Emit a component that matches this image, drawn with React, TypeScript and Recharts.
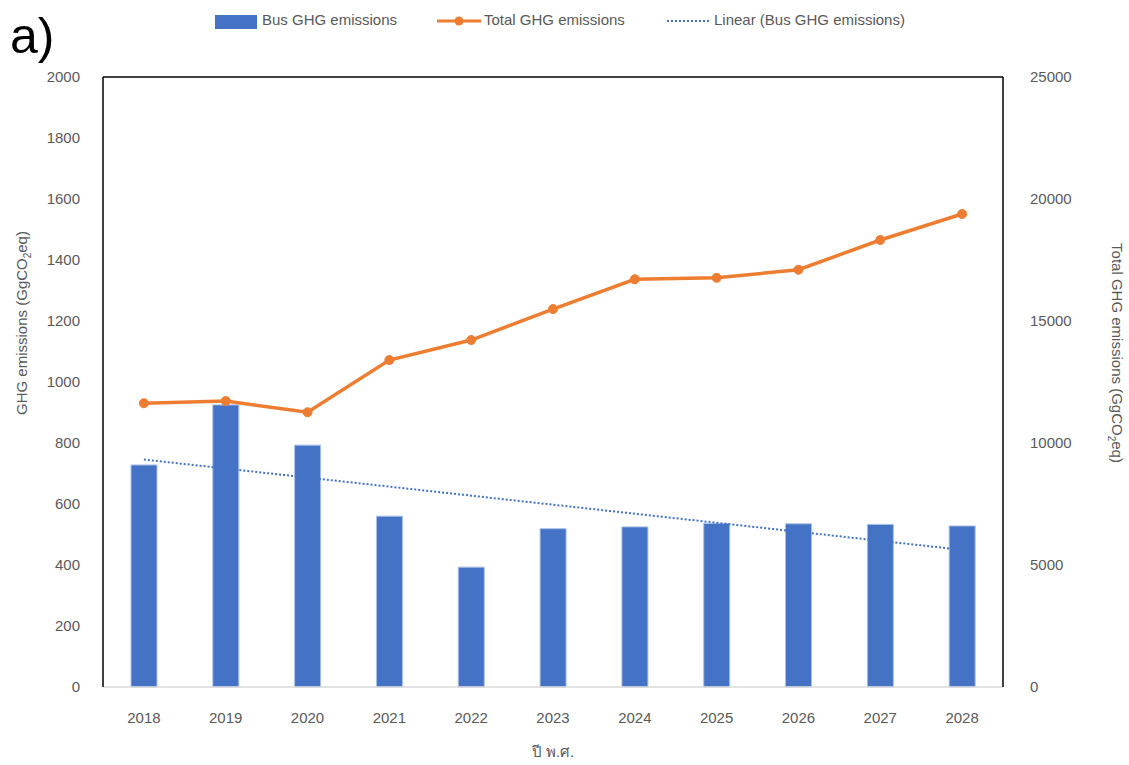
import React from 'react';
import { ComposedChart, Bar, Line, XAxis, YAxis, ReferenceLine } from 'recharts';

const years = ['2018', '2019', '2020', '2021', '2022', '2023', '2024', '2025', '2026', '2027', '2028'];
const busGHG = [728, 925, 793, 560, 393, 519, 525, 536, 535, 533, 528];
const totalGHG = [11630, 11720, 11260, 13400, 14220, 15490, 16710, 16770, 17100, 18320, 19385];
const leftTicks = [0, 200, 400, 600, 800, 1000, 1200, 1400, 1600, 1800, 2000];
const rightTicks = [0, 5000, 10000, 15000, 20000, 25000];

// Excel-style linear trendline (least squares) of the bus series
const n = busGHG.length;
const meanX = (n - 1) / 2;
const meanY = busGHG.reduce((a, b) => a + b, 0) / n;
let sxy = 0;
let sxx = 0;
busGHG.forEach((v, i) => {
  sxy += (i - meanX) * (v - meanY);
  sxx += (i - meanX) * (i - meanX);
});
const slope = sxy / sxx;
const intercept = meanY - slope * meanX;

const data = years.map((y, i) => ({
  year: y,
  bus: busGHG[i],
  total: totalGHG[i],
  trend: intercept + slope * i,
}));

const FONT = '"Liberation Sans", Arial, "DejaVu Sans", sans-serif';
const TXT = '#595959';

const LeftLabel = () => (
  <text
    x={27}
    y={323}
    transform="rotate(-90 27 323)"
    textAnchor="middle"
    fontSize={15}
    fill={TXT}
    fontFamily={FONT}
  >
    GHG emissions (GgCO
    <tspan fontSize={10} dy={4}>2</tspan>
    <tspan dy={-4}>eq)</tspan>
  </text>
);

const RightLabel = () => (
  <text
    x={1112}
    y={353}
    transform="rotate(90 1112 353)"
    textAnchor="middle"
    fontSize={15}
    fill={TXT}
    fontFamily={FONT}
  >
    Total GHG emissions  (GgCO
    <tspan fontSize={10} dy={4}>2</tspan>
    <tspan dy={-4}>eq)</tspan>
  </text>
);

const legendText: React.CSSProperties = {
  position: 'absolute',
  top: 11,
  fontSize: 15,
  color: TXT,
  fontFamily: FONT,
  whiteSpace: 'nowrap',
};

export default function App() {
  return (
    <div style={{ position: 'absolute', left: 0, top: 0, width: 1129, height: 765, background: '#fff' }}>
      <div style={{ position: 'absolute', left: 10, top: 8, fontSize: 50, fontFamily: FONT, color: '#000', lineHeight: '56px' }}>a)</div>
      <div style={{ position: 'absolute', left: 215, top: 15, width: 42, height: 14, background: '#4472C4' }} />
      <div style={{ ...legendText, left: 262 }}>Bus GHG emissions</div>
      <svg style={{ position: 'absolute', left: 436, top: 12 }} width={46} height={18}>
        <line x1={1} y1={9} x2={45} y2={9} stroke="#ED7D31" strokeWidth={3} />
        <circle cx={23} cy={9} r={4.5} fill="#ED7D31" />
      </svg>
      <div style={{ ...legendText, left: 484 }}>Total GHG emissions</div>
      <svg style={{ position: 'absolute', left: 666, top: 12 }} width={46} height={18}>
        <line x1={1} y1={9} x2={45} y2={9} stroke="#4472C4" strokeWidth={2} strokeDasharray="2 2" />
      </svg>
      <div style={{ ...legendText, left: 714 }}>Linear (Bus GHG emissions)</div>
      <div style={{ position: 'absolute', left: 0, top: 0 }}>
        <ComposedChart
          width={1129}
          height={765}
          data={data}
          margin={{ top: 77, right: 0, left: 0, bottom: 0 }}
          barCategoryGap={0}
        >
          <XAxis
            dataKey="year"
            height={78}
            tickLine={false}
            tickSize={0}
            tickMargin={25}
            axisLine={{ stroke: '#d9d9d9', strokeWidth: 1.5 }}
            tick={{ fontSize: 15, fill: TXT, fontFamily: FONT }}
            interval={0}
            label={{ value: 'ปี พ.ศ.', position: 'insideBottom', offset: 8, fontSize: 15, fill: TXT, fontFamily: FONT }}
          />
          <YAxis
            yAxisId="left"
            orientation="left"
            width={103}
            domain={[0, 2000]}
            ticks={leftTicks}
            interval={0}
            tickLine={false}
            tickSize={0}
            tickMargin={23}
            axisLine={{ stroke: '#000', strokeWidth: 1.5 }}
            tick={{ fontSize: 15, fill: TXT, fontFamily: FONT }}
            label={<LeftLabel />}
          />
          <YAxis
            yAxisId="right"
            orientation="right"
            width={126}
            domain={[0, 25000]}
            ticks={rightTicks}
            interval={0}
            tickLine={false}
            tickSize={0}
            tickMargin={27}
            axisLine={{ stroke: '#000', strokeWidth: 1.5 }}
            tick={{ fontSize: 15, fill: TXT, fontFamily: FONT }}
            label={<RightLabel />}
          />
          <ReferenceLine yAxisId="left" y={2000} stroke="#000" strokeWidth={1.5} />
          <Bar
            yAxisId="left"
            dataKey="bus"
            fill="#4472C4"
            stroke="#a9bfe6"
            strokeWidth={1}
            barSize={26}
            isAnimationActive={false}
          />
          <Line
            yAxisId="left"
            dataKey="trend"
            stroke="#4472C4"
            strokeWidth={2}
            strokeDasharray="2 2"
            dot={false}
            activeDot={false}
            isAnimationActive={false}
          />
          <Line
            yAxisId="right"
            dataKey="total"
            stroke="#ED7D31"
            strokeWidth={3.5}
            dot={{ r: 4.5, fill: '#ED7D31', stroke: '#ED7D31', strokeWidth: 1 }}
            activeDot={false}
            isAnimationActive={false}
          />
        </ComposedChart>
      </div>
    </div>
  );
}
